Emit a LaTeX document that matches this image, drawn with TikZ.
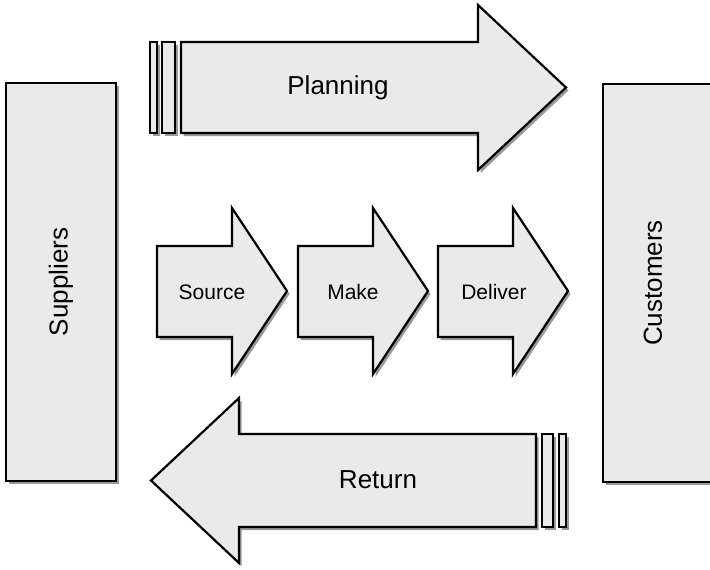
\documentclass[tikz,border=0pt]{standalone}
\usepackage{fontspec}
\setmainfont{Liberation Sans}
\usetikzlibrary{shadows}
\definecolor{boxfill}{HTML}{EAEAEA}
\tikzset{
  flowshape/.style={draw=black, line width=2.2pt, fill=boxfill, line join=miter,
    drop shadow={shadow xshift=2.5pt, shadow yshift=-3pt, opacity=0.4, fill=black}},
  barshape/.style={draw=black, line width=1.8pt, fill=boxfill,
    drop shadow={shadow xshift=2.5pt, shadow yshift=-3pt, opacity=0.4, fill=black}},
  biglabel/.style={font=\fontsize{26}{30}\selectfont, inner sep=0pt},
  smalllabel/.style={font=\fontsize{21}{25}\selectfont, inner sep=0pt}
}
\begin{document}
\begin{tikzpicture}[x=1pt, y=-1pt]
\useasboundingbox (0,0) rectangle (710,570);
\begin{scope}
\clip (0,0) rectangle (710,570);
% side boxes
\draw[flowshape] (6,83) rectangle (116,481);
\draw[flowshape] (603,84) rectangle (730,482);
% Planning arrow
\draw[barshape] (150,42) rectangle (157,133);
\draw[barshape] (162,42) rectangle (175,133);
\draw[flowshape] (181,42) -- (478,42) -- (478,5) -- (566,87.5) -- (478,170) -- (478,133) -- (181,133) -- cycle;
% Middle arrows
\foreach \x in {0,141,281}{
  \draw[flowshape] (157+\x,246) -- (232+\x,246) -- (232+\x,208) -- (287+\x,291) -- (232+\x,374) -- (232+\x,337) -- (157+\x,337) -- cycle;
}
% Return arrow
\draw[flowshape] (536,434) -- (239,434) -- (239,398) -- (151,480.5) -- (239,563) -- (239,527) -- (536,527) -- cycle;
\draw[barshape] (542,434) rectangle (553,527);
\draw[barshape] (559,434) rectangle (566,527);
\end{scope}
% labels
\node[biglabel, rotate=90] (suppliers) at (61,282) {Suppliers};
\node[biglabel, rotate=90] (customers) at (653,283) {Customers};
\node[biglabel] (planning) at (338,88) {Planning};
\node[biglabel] (return) at (378,480) {Return};
\node[smalllabel] (source) at (212,292) {Source};
\node[smalllabel] (make) at (353,292) {Make};
\node[smalllabel] (deliver) at (494,292) {Deliver};
\end{tikzpicture}
\end{document}
